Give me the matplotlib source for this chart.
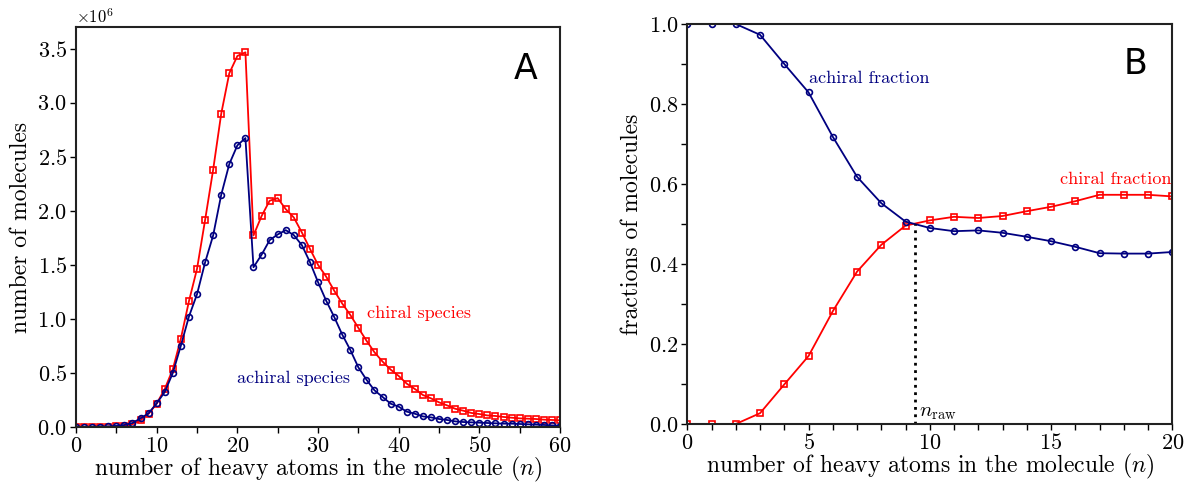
import numpy as np
import matplotlib
matplotlib.use("Agg")
import matplotlib.pyplot as plt
from matplotlib.ticker import MultipleLocator, ScalarFormatter

plt.rcParams['font.family'] = ['cmr10', 'DejaVu Serif']
plt.rcParams['mathtext.fontset'] = 'cm'
plt.rcParams['axes.formatter.use_mathtext'] = True

RED = '#ff0000'
BLUE = '#000080'

# panel A: counts (in units of 1e6) vs number of heavy atoms
n_atoms = np.arange(0, 61)
chiral_counts = [0.0, 0.0, 0.001, 0.002, 0.003, 0.006, 0.010, 0.025, 0.062, 0.123,
                 0.216, 0.352, 0.534, 0.818, 1.164, 1.463, 1.914, 2.380, 2.898, 3.272,
                 3.432, 3.466, 1.772, 1.951, 2.093, 2.117, 2.015, 1.938, 1.799, 1.648,
                 1.500, 1.392, 1.262, 1.142, 1.037, 0.917, 0.799, 0.691, 0.605, 0.531,
                 0.472, 0.401, 0.352, 0.296, 0.265, 0.228, 0.200, 0.169, 0.151, 0.130,
                 0.120, 0.107, 0.102, 0.093, 0.086, 0.080, 0.077, 0.074, 0.068, 0.065,
                 0.062]
achiral_counts = [0.0, 0.001, 0.002, 0.004, 0.006, 0.010, 0.019, 0.037, 0.080, 0.127,
                  0.219, 0.324, 0.500, 0.753, 1.022, 1.228, 1.522, 1.772, 2.148, 2.432,
                  2.605, 2.673, 1.478, 1.593, 1.728, 1.781, 1.821, 1.775, 1.682, 1.525,
                  1.340, 1.170, 1.019, 0.855, 0.713, 0.552, 0.438, 0.339, 0.278, 0.216,
                  0.188, 0.142, 0.123, 0.098, 0.089, 0.074, 0.065, 0.052, 0.046, 0.043,
                  0.040, 0.037, 0.034, 0.031, 0.031, 0.028, 0.025, 0.022, 0.019, 0.015,
                  0.012]

# panel B: fractions for n = 0..20
n_frac = np.arange(0, 21)
achiral_frac = [1.0, 1.0, 1.0, 0.973, 0.900, 0.829, 0.718, 0.618, 0.552, 0.506,
                0.490, 0.482, 0.484, 0.478, 0.468, 0.457, 0.443, 0.427, 0.426, 0.426,
                0.430]
chiral_frac = [0.0, 0.0, 0.0, 0.027, 0.099, 0.170, 0.282, 0.381, 0.448, 0.496,
               0.509, 0.518, 0.515, 0.520, 0.532, 0.543, 0.557, 0.573, 0.573, 0.573,
               0.569]
n_raw = 9.4

fig = plt.figure(figsize=(11.84, 4.86), dpi=100)
axA = fig.add_axes([0.0642, 0.1214, 0.4088, 0.823])
axB = fig.add_axes([0.5805, 0.1276, 0.4096, 0.823])

# ---- panel A
axA.plot(n_atoms, np.array(chiral_counts) * 1e6, color=RED, lw=1.3, marker='s',
         ms=4.5, mfc='none', mec=RED, mew=1.2)
axA.plot(n_atoms, np.array(achiral_counts) * 1e6, color=BLUE, lw=1.3, marker='o',
         ms=4.2, mfc='none', mec=BLUE, mew=1.2)
axA.set_xlim(0, 60)
axA.set_ylim(0, 3.7e6)
axA.xaxis.set_major_locator(MultipleLocator(10))
axA.xaxis.set_minor_locator(MultipleLocator(5))
axA.yaxis.set_major_locator(MultipleLocator(0.5e6))
fmt = ScalarFormatter(useMathText=True)
fmt.set_powerlimits((0, 0))
axA.yaxis.set_major_formatter(fmt)
axA.yaxis.get_offset_text().set_fontsize(12)
axA.set_xlabel(r'number of heavy atoms in the molecule $(n)$', fontsize=17, labelpad=-1)
axA.set_ylabel('number of molecules', fontsize=17)
axA.text(36.1, 1.05e6, 'chiral species', color=RED, fontsize=13, va='center')
axA.text(19.9, 0.447e6, 'achiral species', color=BLUE, fontsize=13, va='center')
axA.text(0.928, 0.895, 'A', transform=axA.transAxes, fontsize=25,
         family='DejaVu Sans', ha='center', va='center')

# ---- panel B
axB.plot(n_frac, chiral_frac, color=RED, lw=1.3, marker='s',
         ms=4.5, mfc='none', mec=RED, mew=1.2)
axB.plot(n_frac, achiral_frac, color=BLUE, lw=1.3, marker='o',
         ms=4.2, mfc='none', mec=BLUE, mew=1.2)
axB.plot([n_raw, n_raw], [0, 0.5], color='black', ls=':', lw=2)
axB.set_xlim(0, 20)
axB.set_ylim(0, 1.0)
axB.xaxis.set_major_locator(MultipleLocator(5))
axB.xaxis.set_minor_locator(MultipleLocator(1))
axB.yaxis.set_major_locator(MultipleLocator(0.2))
axB.yaxis.set_minor_locator(MultipleLocator(0.1))
axB.set_xlabel(r'number of heavy atoms in the molecule $(n)$', fontsize=17, labelpad=-1)
axB.set_ylabel('fractions of molecules', fontsize=17)
axB.text(5.0, 0.865, 'achiral fraction', color=BLUE, fontsize=13, va='center')
axB.text(19.95, 0.6125, 'chiral fraction', color=RED, fontsize=13, va='center', ha='right')
axB.text(n_raw + 0.15, 0.005, r'$n_{\rm raw}$', fontsize=15, va='bottom')
axB.text(0.925, 0.9, 'B', transform=axB.transAxes, fontsize=25,
         family='DejaVu Sans', ha='center', va='center')

for ax in (axA, axB):
    ax.tick_params(which='both', direction='out', top=False, right=False,
                   labelsize=16, length=4, width=1, pad=2.5)
    for sp in ax.spines.values():
        sp.set_linewidth(1.5)
        sp.set_color('#222222')

fig.savefig('out.png', dpi=100)
